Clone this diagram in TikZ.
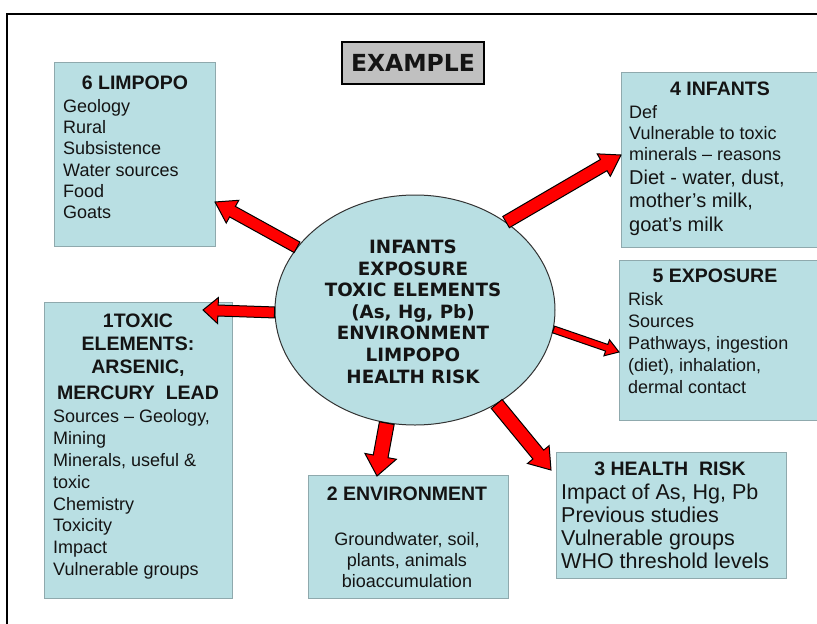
\documentclass[tikz,border=0pt]{standalone}
\usepackage{fontspec}
\setmainfont{Liberation Sans}
\newfontfamily\ellfont{DejaVu Sans}
\usetikzlibrary{calc,shapes.geometric}
\definecolor{boxfill}{HTML}{B9DFE3}
\definecolor{boxline}{HTML}{8FA9AD}
\definecolor{txt}{HTML}{141414}
\definecolor{exfill}{HTML}{C0C0C0}
\newcommand\blockarrow[5]{%
  \draw[blockarr] let \p1=($(#2)-(#1)$), \n1={atan2(\y1,\x1)} in
    ($(#1)+(\n1+90:#3pt)$) --
    ($(#2)+(\n1+180:#5pt)+(\n1+90:#3pt)$) --
    ($(#2)+(\n1+180:#5pt)+(\n1+90:#4pt)$) --
    (#2) --
    ($(#2)+(\n1+180:#5pt)+(\n1-90:#4pt)$) --
    ($(#2)+(\n1+180:#5pt)+(\n1-90:#3pt)$) --
    ($(#1)+(\n1-90:#3pt)$) -- cycle;}
\begin{document}
\begin{tikzpicture}[x=1pt,y=-1pt,
  box/.style={draw=boxline, fill=boxfill, line width=1.2pt, anchor=north west, inner sep=0pt},
  ttl/.style={text=txt, font=\fontsize{19.5}{22}\selectfont\bfseries, inner sep=0pt, anchor=base},
  bodyt/.style={text=txt, font=\fontsize{18}{22}\selectfont, inner sep=0pt, anchor=base west},
  bigt/.style={text=txt, font=\fontsize{20}{24}\selectfont, inner sep=0pt, anchor=base west},
  hugt/.style={text=txt, font=\fontsize{21.5}{24}\selectfont, inner sep=0pt, anchor=base west},
  ellt/.style={text=txt, font=\ellfont\fontsize{18.3}{21}\selectfont\bfseries, inner sep=0pt, anchor=base},
  blockarr/.style={fill=red, draw=black, line width=1pt, line join=miter}]
\useasboundingbox (0,0) rectangle (817,624);
\fill[white] (0,0) rectangle (817,624);
\draw[line width=2pt] (7,624) -- (7,14) -- (817,14);

% boxes
\node[box, minimum width=161pt, minimum height=184pt] (lim) at (54,62) {};
\node[box, minimum width=200pt, minimum height=175pt] (inf) at (621,72) {};
\node[box, minimum width=200pt, minimum height=160pt] (exs) at (619,260) {};
\node[box, minimum width=188pt, minimum height=296pt] (tox) at (44,302) {};
\node[box, minimum width=200pt, minimum height=123pt] (env) at (308,475) {};
\node[box, minimum width=230pt, minimum height=126pt] (hea) at (556,452) {};
\node[draw=black, fill=exfill, line width=1.2pt, minimum width=142pt, minimum height=42pt,
      font=\ellfont\fontsize{23.5}{26}\selectfont\bfseries, text=txt, inner sep=0pt] (ex) at (413,63) {EXAMPLE};

% ellipse
\node[ellipse, draw=black!80, fill=boxfill, line width=1pt, minimum width=280pt, minimum height=230pt, inner sep=0pt] (c) at (415,310) {};
\foreach \yy/\txt [count=\i] in {253.5/INFANTS, 275.1/EXPOSURE, 296.7/TOXIC ELEMENTS, 318.3/{(As, Hg, Pb)}, 339.9/ENVIRONMENT, 361.5/LIMPOPO, 383.1/HEALTH RISK}
  \node[ellt] (cl\i) at (413,\yy) {\txt};

% 6 LIMPOPO
\node[ttl] (limT) at (135,89) {6 LIMPOPO};
\foreach \yy/\txt [count=\i] in {112/Geology, 133/Rural, 154/Subsistence, 176/Water sources, 197/Food, 218/Goats}
  \node[bodyt] (lim\i) at (63,\yy) {\txt};

% 4 INFANTS
\node[ttl] (infT) at (720,95) {4 INFANTS};
\node[bodyt] (inf1) at (629,118) {Def};
\node[bodyt] (inf2) at (629,139) {Vulnerable to toxic};
\node[bodyt] (inf3) at (629,160) {minerals -- reasons};
\node[bigt] (inf4) at (629,184) {Diet - water, dust,};
\node[bigt] (inf5) at (629,207) {mother's milk,};
\node[bigt] (inf6) at (629,231) {goat's milk};

% 5 EXPOSURE
\node[ttl] (exsT) at (715,282) {5 EXPOSURE};
\foreach \yy/\txt [count=\i] in {305/Risk, 327/Sources, 349/{Pathways, ingestion}, 371/{(diet), inhalation,}, 393/dermal contact}
  \node[bodyt] (exs\i) at (628,\yy) {\txt};

% 1 TOXIC ELEMENTS
\node[ttl] (toxT1) at (138,327) {1TOXIC};
\node[ttl] (toxT2) at (138,350) {ELEMENTS:};
\node[ttl] (toxT3) at (138,373) {ARSENIC,};
\node[ttl] (toxT4) at (138,399) {MERCURY\ \ LEAD};
\foreach \yy/\txt [count=\i] in {422/{Sources -- Geology,}, 444/Mining, 466/{Minerals, useful \&}, 488/toxic, 510/Chemistry, 531/Toxicity, 553/Impact, 575/Vulnerable groups}
  \node[bodyt] (tox\i) at (53,\yy) {\txt};

% 2 ENVIRONMENT
\node[ttl] (envT) at (407,500) {2 ENVIRONMENT};
\node[bodyt, anchor=base] (env1) at (407,545) {Groundwater, soil,};
\node[bodyt, anchor=base] (env2) at (407,566) {plants, animals};
\node[bodyt, anchor=base] (env3) at (407,587) {bioaccumulation};

% 3 HEALTH RISK
\node[ttl] (heaT) at (670,475) {3 HEALTH\ \ RISK};
\foreach \yy/\txt [count=\i] in {499/{Impact of As, Hg, Pb}, 522/Previous studies, 545/Vulnerable groups, 568/WHO threshold levels}
  \node[hugt] (hea\i) at (561,\yy) {\txt};

% arrows
\coordinate (s6) at (c.152); \coordinate (e6) at (215,202);
\coordinate (s1) at (c.181); \coordinate (e1) at (203,310);
\coordinate (s4) at (c.44);  \coordinate (e4) at (621,155);
\coordinate (s5) at (c.-8);  \coordinate (e5) at (619,352);
\coordinate (s2) at (c.-104); \coordinate (e2) at (377,476);
\coordinate (s3) at (c.-49); \coordinate (e3) at (551,470);
\blockarrow{s6}{e6}{6}{13}{20}
\blockarrow{s1}{e1}{5.5}{13}{15}
\blockarrow{s4}{e4}{6.5}{13}{20}
\blockarrow{s5}{e5}{3.5}{8.5}{13}
\blockarrow{s2}{e2}{7.5}{16}{20}
\blockarrow{s3}{e3}{7}{14}{20}
\end{tikzpicture}
\end{document}
